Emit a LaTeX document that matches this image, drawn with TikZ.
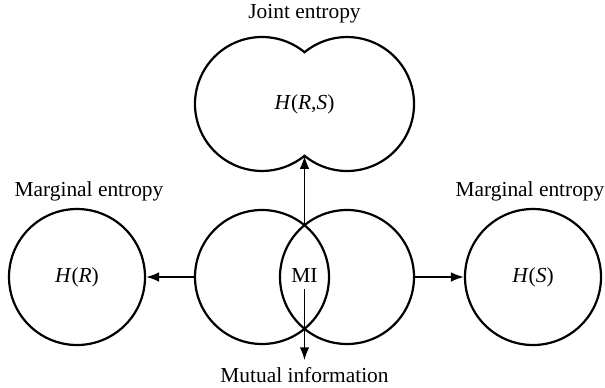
\documentclass[tikz,border=0pt]{standalone}
\usepackage{fontspec}
\setmainfont{Liberation Serif}
\usetikzlibrary{positioning,arrows.meta}

\begin{document}
\begin{tikzpicture}[x=0.5pt, y=0.5pt, node distance=0pt,
        every node/.style={font=\fontsize{10.7}{12}\selectfont},
        ent/.style={draw, circle, line width=1.1pt, minimum size=67pt, inner sep=0pt},
        arr/.style={-{Latex[length=6.5pt,width=4.8pt]}, line width=0.9pt}]

        \useasboundingbox (0,0) rectangle (605,387);

        % Venn circles in the middle
        \node (venl) [ent] at (262,110) {};
        \node (venr) [ent] at (347,110) {};
        \node (mi) at (304.5,112) {MI};
        \coordinate (vtop) at (304.5,162);

        % marginal entropies
        \node (margl) [ent, minimum size=68pt] at (77,110) {\textit{H}(\textit{R})};
        \node (margr) [ent, minimum size=68pt] at (533,110) {\textit{H}(\textit{S})};
        \node (marglbl) [above=0pt of margl, xshift=6pt] {Marginal entropy};
        \node (margrlbl) [above=0pt of margr, xshift=-1.5pt] {Marginal entropy};

        % joint entropy (union of both circles)
        \node (joint) [minimum width=109.5pt, minimum height=67pt] at (304.5,283) {\textit{H}(\textit{R},\textit{S})};
        \draw [line width=1.1pt] (262,283) ++(50.6:67) arc[start angle=50.6, end angle=309.4, radius=67]
            arc[start angle=-129.4, end angle=129.4, radius=67] -- cycle;
        \coordinate (jbot) at (304.5,231.2);
        \node (jointlbl) [above=3pt of joint] {Joint entropy};

        \node (milbl) at (304.5,12) {Mutual information};

        \draw [arr] (vtop) -- (jbot);
        \draw [arr] (mi.south) -- (milbl.north);
        \draw [arr] (venl.west) -- (margl.east);
        \draw [arr] (venr.east) -- (margr.west);

    \end{tikzpicture}
\end{document}
